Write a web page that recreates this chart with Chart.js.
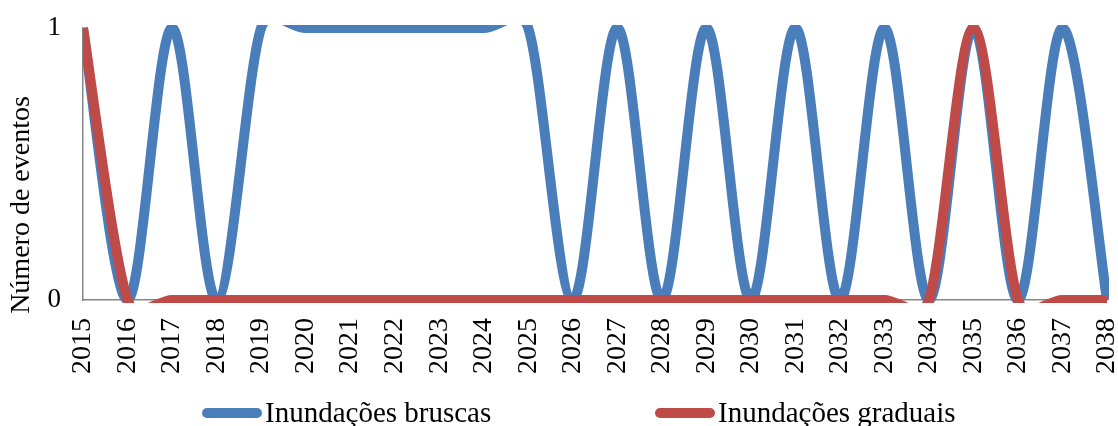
<html>

<head>
    <script type="text/javascript" src="https://cdn.jsdelivr.net/npm/chart.js@4/dist/chart.umd.min.js"></script>
    <style>
        body { margin: 0; background: #fff; }
    </style>
</head>

<body>
    <canvas id="eventosGraph" width="1118" height="426"></canvas>
</body>

</html>

<script type="text/javascript">
    // dados
    const anos = ['2015', '2016', '2017', '2018', '2019', '2020', '2021', '2022', '2023', '2024', '2025', '2026',
        '2027', '2028', '2029', '2030', '2031', '2032', '2033', '2034', '2035', '2036', '2037', '2038'];
    const bruscas = [1, 0, 1, 0, 1, 1, 1, 1, 1, 1, 1, 0, 1, 0, 1, 0, 1, 0, 1, 0, 1, 0, 1, 0];
    const graduais = [1, 0, 0, 0, 0, 0, 0, 0, 0, 0, 0, 0, 0, 0, 0, 0, 0, 0, 0, 0, 1, 0, 0, 0];
    const rotulosY = ['0', '1'];
    const tituloY = 'Número de eventos';
    const nomes = ['Inundações bruscas', 'Inundações graduais'];
    const cores = ['#4A7EBB', '#BE4B48'];

    const fonte = '"Liberation Serif", "DejaVu Serif", serif';

    // suavizacao parecida com a do Excel (tangente /6, braco limitado pelo segmento vizinho)
    const suavizacaoExcel = {
        id: 'suavizacaoExcel',
        beforeDatasetDraw(chart, args) {
            const pts = args.meta.data;
            args.meta.dataset.updateControlPoints(chart.chartArea, 'x');
            for (let i = 0; i < pts.length; i++) {
                const p = pts[i];
                const ant = pts[Math.max(i - 1, 0)];
                const prox = pts[Math.min(i + 1, pts.length - 1)];
                const dx = (prox.x - ant.x) / 6;
                const dy = (prox.y - ant.y) / 6;
                const braco = Math.hypot(dx, dy) || 1;
                const segAnt = Math.hypot(p.x - ant.x, p.y - ant.y) || braco;
                const segProx = Math.hypot(prox.x - p.x, prox.y - p.y) || braco;
                const kAnt = Math.min(1, 0.55 * segAnt / braco);
                const kProx = Math.min(1, 0.55 * segProx / braco);
                p.cp1x = p.x - dx * kAnt;
                p.cp1y = p.y - dy * kAnt;
                p.cp2x = p.x + dx * kProx;
                p.cp2y = p.y + dy * kProx;
            }
        }
    };

    // legenda e titulo do eixo y desenhados a mao
    const legendaManual = {
        id: 'legendaManual',
        afterDraw(chart, args, opts) {
            const ctx = chart.ctx;
            ctx.save();
            ctx.translate(opts.tituloX, opts.tituloY);
            ctx.rotate(-Math.PI / 2);
            ctx.font = '28px ' + fonte;
            ctx.fillStyle = '#000';
            ctx.textAlign = 'center';
            ctx.textBaseline = 'middle';
            ctx.fillText(tituloY, 0, 0);
            ctx.restore();

            chart.data.datasets.forEach((ds, i) => {
                const it = opts.itens[i];
                ctx.save();
                ctx.strokeStyle = ds.borderColor;
                ctx.lineWidth = 10;
                ctx.lineCap = 'round';
                ctx.beginPath();
                ctx.moveTo(it.x0 + 5, opts.y);
                ctx.lineTo(it.x1 - 5, opts.y);
                ctx.stroke();
                ctx.font = '29px ' + fonte;
                ctx.fillStyle = '#000';
                ctx.textBaseline = 'alphabetic';
                ctx.fillText(ds.label, it.x1 + 3, opts.base);
                ctx.restore();
            });
        }
    };

    var ctx = document.getElementById('eventosGraph').getContext('2d');
    var eventosGraph = new Chart(ctx, {
        type: 'line',
        data: {
            labels: anos,
            datasets: [{
                label: nomes[0],
                data: bruscas,
                borderColor: cores[0],
                backgroundColor: cores[0],
                borderWidth: 10,
                tension: 0.4,
                pointRadius: 0,
                fill: false,
                order: 1,
                clip: { left: 0, top: 3, right: 2, bottom: 3 }
            }, {
                label: nomes[1],
                data: graduais,
                borderColor: cores[1],
                backgroundColor: cores[1],
                borderWidth: 10,
                tension: 0.4,
                pointRadius: 0,
                fill: false,
                order: 0,
                clip: { left: 0, top: 3, right: 2, bottom: 3 }
            }]
        },
        options: {
            responsive: false,
            animation: false,
            layout: { padding: { top: 28, right: 11, bottom: 0, left: 0 } },
            plugins: {
                legend: { display: false },
                tooltip: { enabled: false },
                legendaManual: {
                    tituloX: 22,
                    tituloY: 205,
                    y: 413,
                    base: 422,
                    itens: [
                        { x0: 202, x1: 262 },
                        { x0: 655, x1: 715 }
                    ]
                }
            },
            scales: {
                x: {
                    grid: { display: false, drawTicks: false },
                    border: { color: '#868686', width: 1.5 },
                    ticks: {
                        autoSkip: false,
                        minRotation: 90,
                        maxRotation: 90,
                        padding: 18,
                        color: '#000',
                        font: { family: fonte, size: 28 }
                    },
                    afterFit: function (s) {
                        s.height = 126;
                        s.paddingLeft = 0;
                        s.paddingRight = 0;
                    }
                },
                y: {
                    min: 0,
                    max: 1,
                    grid: { display: false, drawTicks: false },
                    border: { color: '#868686', width: 1.5 },
                    ticks: {
                        stepSize: 1,
                        padding: 22,
                        color: '#000',
                        font: { family: fonte, size: 27 },
                        callback: function (v) { return rotulosY[v]; }
                    },
                    afterFit: function (s) {
                        s.width = 83;
                        s.paddingTop = 0;
                        s.paddingBottom = 0;
                    }
                }
            }
        },
        plugins: [suavizacaoExcel, legendaManual]
    });
</script>
